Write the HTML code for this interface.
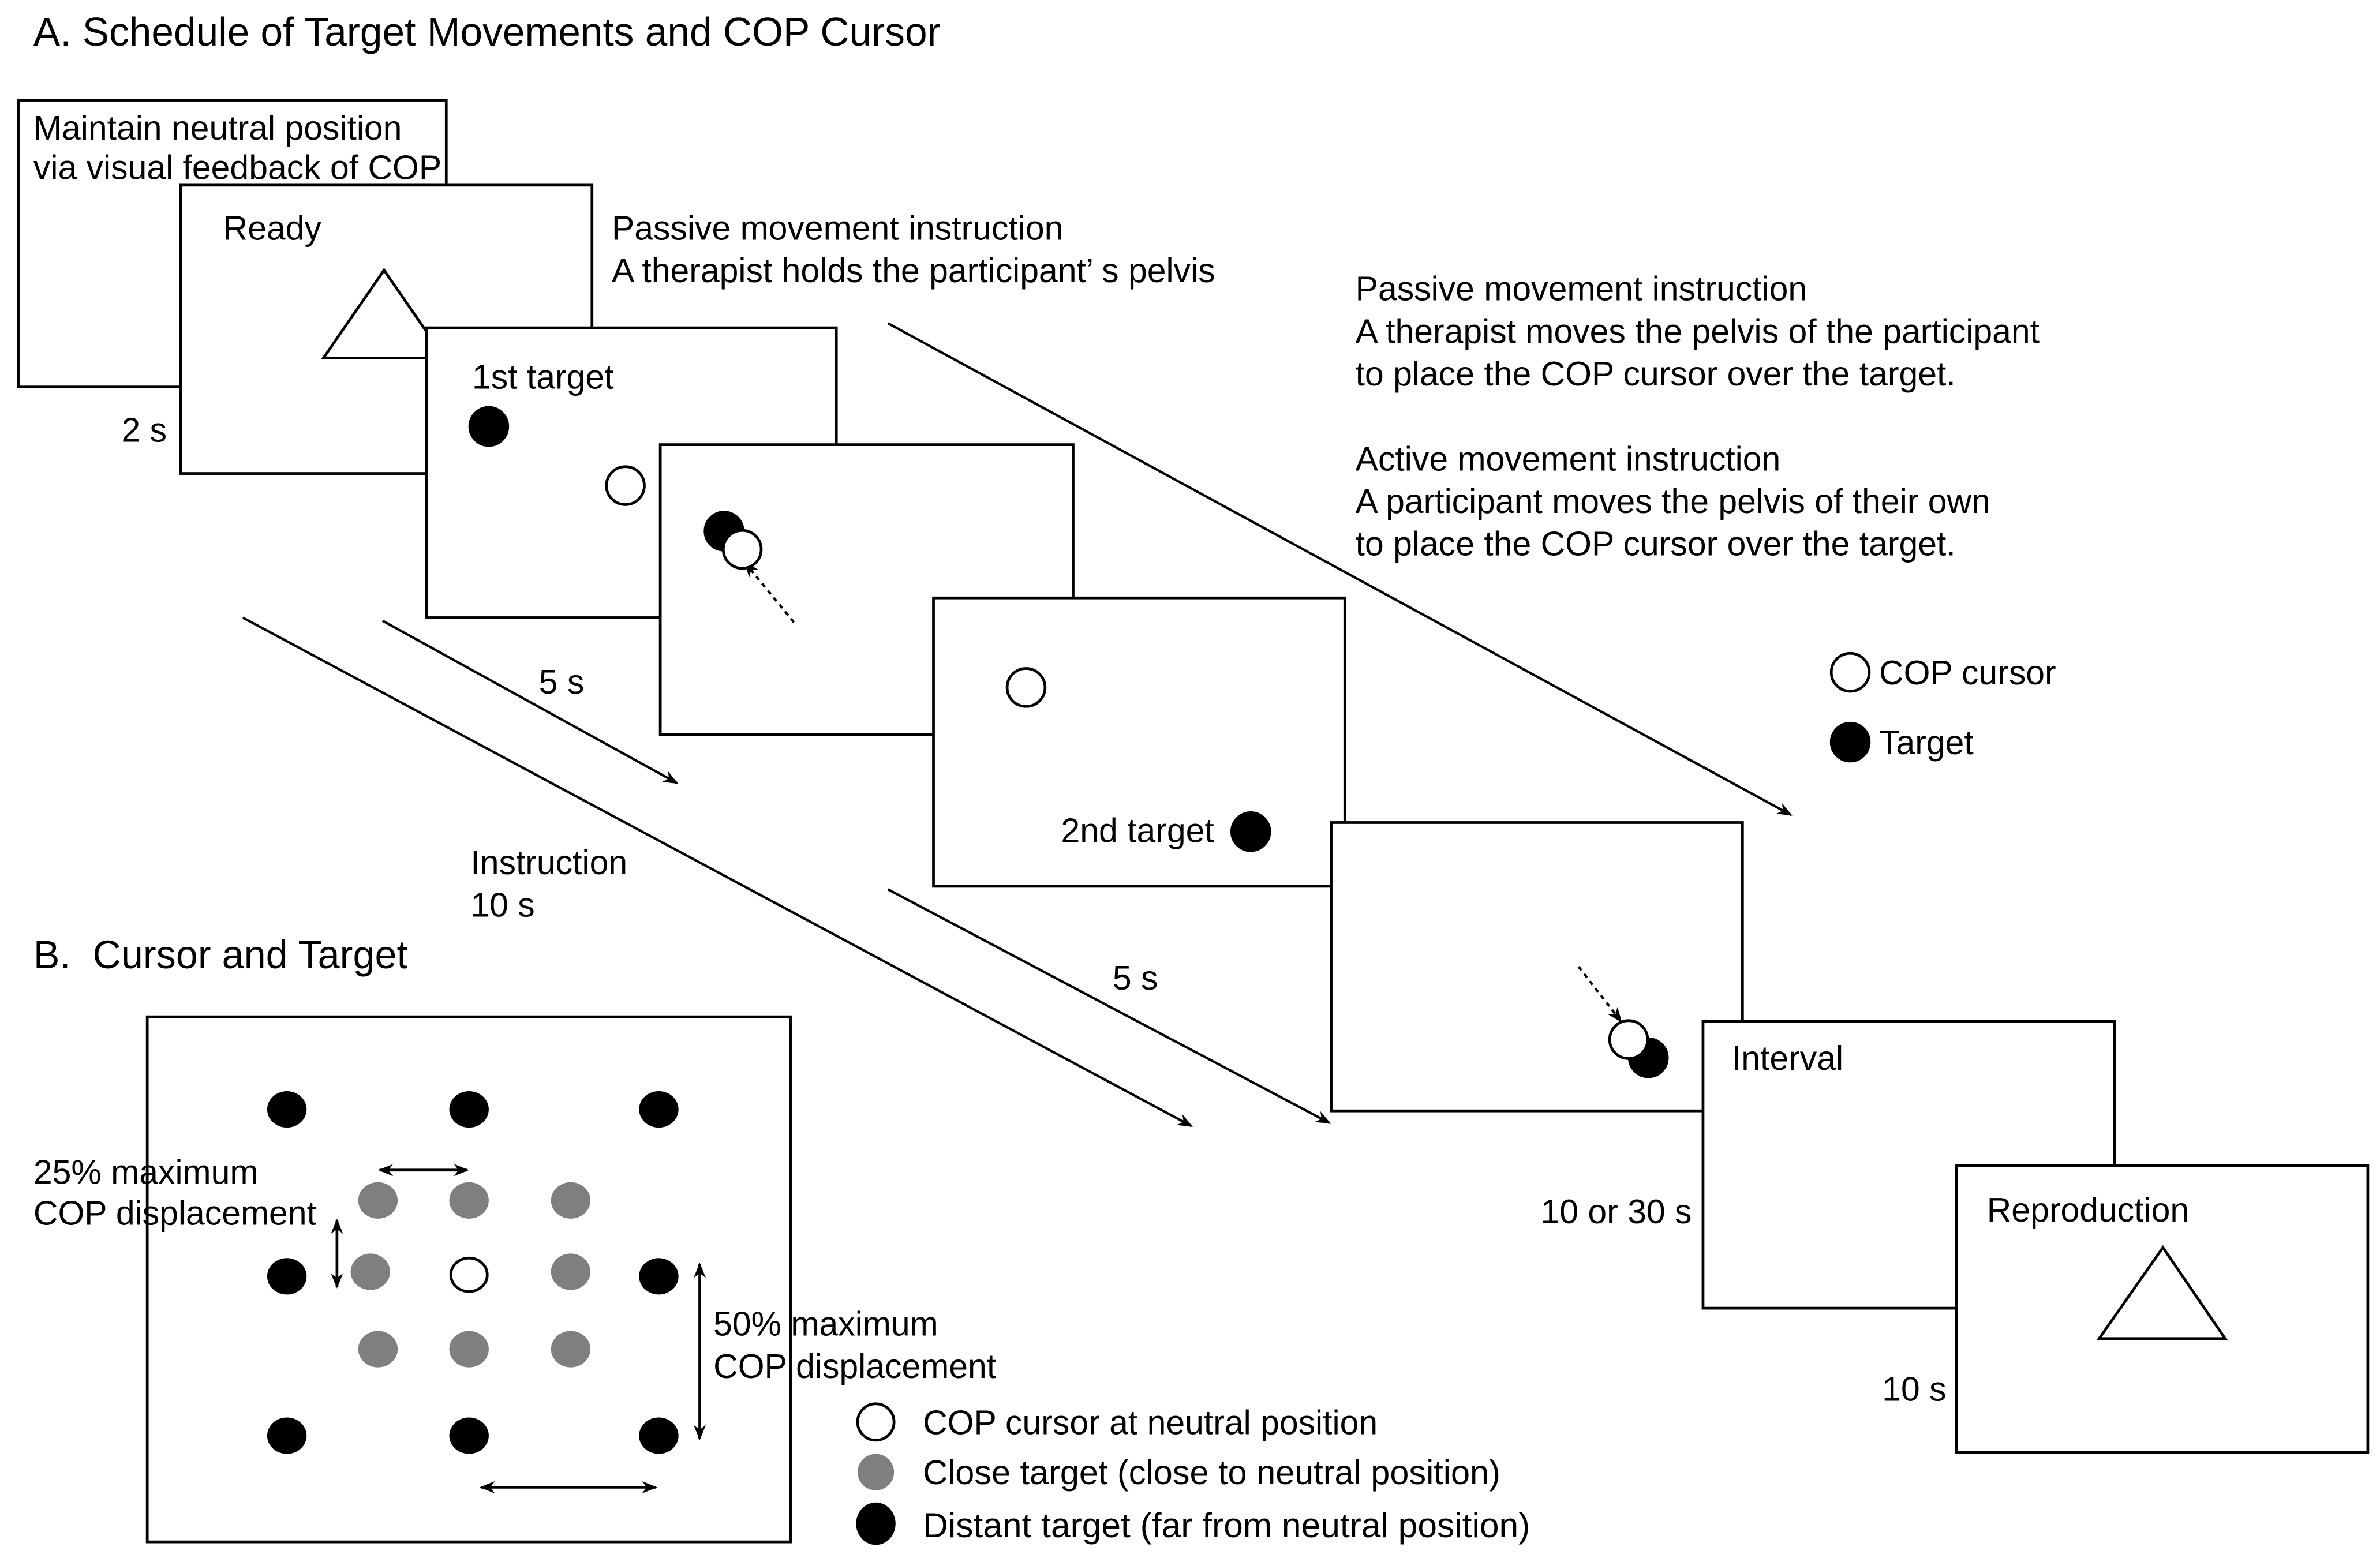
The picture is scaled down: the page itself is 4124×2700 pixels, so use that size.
<!DOCTYPE html>
<html><head><meta charset="utf-8"><style>
html,body{margin:0;padding:0;background:#fff;}
svg{display:block;}
text{font-family:"Liberation Sans",sans-serif;font-size:22.4px;fill:#000;}
</style></head><body>
<svg width="4124" height="2700" viewBox="0 0 1568 1026.6" xmlns="http://www.w3.org/2000/svg">
<defs>
<marker id="ah" markerWidth="10" markerHeight="10" refX="9" refY="5" orient="auto" markerUnits="userSpaceOnUse" viewBox="0 0 10 10">
<path d="M0,1 L10,5 L0,9 L3,5 Z" fill="#000"/></marker>
<marker id="as" markerWidth="10" markerHeight="10" refX="1" refY="5" orient="auto" markerUnits="userSpaceOnUse" viewBox="0 0 10 10">
<path d="M10,1 L0,5 L10,9 L7,5 Z" fill="#000"/></marker>
</defs>
<rect width="1568" height="1026.6" fill="#fff"/>
<text x="22" y="30" style="font-size:26.4px">A. Schedule of Target Movements and COP Cursor</text>

<g stroke="#000" stroke-width="1.8" fill="#fff">
<rect x="12" y="66" width="282" height="189"/>
<rect x="119" y="122" width="271" height="190"/>
<polygon points="213,236 253,178 293,236" fill="#fff"/>
<rect x="281" y="216" width="270" height="191"/>
<rect x="435" y="293" width="272" height="191"/>
<rect x="615" y="394" width="271" height="190"/>
<rect x="877" y="542" width="271" height="190"/>
<rect x="1122" y="673" width="271" height="189"/>
<rect x="1289" y="768" width="271" height="189"/>
<polygon points="1383,882 1425,822 1466,882"/>
<rect x="97" y="670" width="424" height="346"/>
</g>

<text x="22" y="92">Maintain neutral position</text>
<text x="22" y="118">via visual feedback of COP</text>
<text x="147" y="158">Ready</text>
<text x="80" y="291">2 s</text>
<text x="311" y="256">1st target</text>
<text x="403" y="158">Passive movement instruction</text>
<text x="403" y="186">A therapist holds the participant’ s pelvis</text>
<text x="893" y="198">Passive movement instruction</text>
<text x="893" y="226">A therapist moves the pelvis of the participant</text>
<text x="893" y="254">to place the COP cursor over the target.</text>
<text x="893" y="310">Active movement instruction</text>
<text x="893" y="338">A participant moves the pelvis of their own</text>
<text x="893" y="366">to place the COP cursor over the target.</text>
<text x="355" y="457">5 s</text>
<text x="310" y="576">Instruction</text>
<text x="310" y="604">10 s</text>
<text x="733" y="652">5 s</text>
<text x="699" y="555">2nd target</text>
<text x="1238" y="451">COP cursor</text>
<text x="1238" y="497">Target</text>
<text x="1141" y="705">Interval</text>
<text x="1015" y="806">10 or 30 s</text>
<text x="1309" y="805">Reproduction</text>
<text x="1240" y="923">10 s</text>
<text x="22" y="638" style="font-size:26px">B.</text>
<text x="61" y="638" style="font-size:26px">Cursor and Target</text>

<g stroke="#000" stroke-width="1.6" fill="none">
<line x1="160" y1="407" x2="785" y2="742" marker-end="url(#ah)"/>
<line x1="252" y1="409" x2="446" y2="516" marker-end="url(#ah)"/>
<line x1="585" y1="213" x2="1180" y2="537" marker-end="url(#ah)"/>
<line x1="585" y1="586" x2="876" y2="740" marker-end="url(#ah)"/>
<line x1="523" y1="410" x2="491" y2="371" stroke-dasharray="3,3" marker-end="url(#ah)"/>
<line x1="1040" y1="637" x2="1068" y2="673" stroke-dasharray="3,3" marker-end="url(#ah)"/>
</g>

<g stroke="#000" stroke-width="1.8">
<circle cx="322" cy="281" r="12.5" fill="#000"/>
<circle cx="412" cy="320" r="12.5" fill="#fff"/>
<circle cx="477" cy="350" r="12.5" fill="#000"/>
<circle cx="489" cy="362" r="12.5" fill="#fff"/>
<circle cx="676" cy="453" r="12.5" fill="#fff"/>
<circle cx="824" cy="548" r="12.5" fill="#000"/>
<circle cx="1086" cy="697" r="12.5" fill="#000"/>
<circle cx="1073" cy="685" r="12.5" fill="#fff"/>
<circle cx="1219" cy="443" r="12.5" fill="#fff"/>
<circle cx="1219" cy="489" r="12.5" fill="#000"/>
</g>

<g fill="#000">
<ellipse cx="189" cy="731" rx="13" ry="12"/><ellipse cx="309" cy="731" rx="13" ry="12"/><ellipse cx="434" cy="731" rx="13" ry="12"/>
<ellipse cx="189" cy="841" rx="13" ry="12"/><ellipse cx="434" cy="841" rx="13" ry="12"/>
<ellipse cx="189" cy="946" rx="13" ry="12"/><ellipse cx="309" cy="946" rx="13" ry="12"/><ellipse cx="434" cy="946" rx="13" ry="12"/>
</g>
<g fill="#7f7f7f">
<ellipse cx="249" cy="791" rx="13" ry="12"/><ellipse cx="309" cy="791" rx="13" ry="12"/><ellipse cx="376" cy="791" rx="13" ry="12"/>
<ellipse cx="244" cy="838" rx="13" ry="12"/><ellipse cx="376" cy="838" rx="13" ry="12"/>
<ellipse cx="249" cy="889" rx="13" ry="12"/><ellipse cx="309" cy="889" rx="13" ry="12"/><ellipse cx="376" cy="889" rx="13" ry="12"/>
</g>
<ellipse cx="309" cy="840" rx="12" ry="11" fill="#fff" stroke="#000" stroke-width="1.8"/>

<g stroke="#000" stroke-width="1.8">
<line x1="250" y1="771" x2="308" y2="771" marker-start="url(#as)" marker-end="url(#ah)"/>
<line x1="222" y1="804" x2="222" y2="848" marker-start="url(#as)" marker-end="url(#ah)"/>
<line x1="461" y1="833" x2="461" y2="948" marker-start="url(#as)" marker-end="url(#ah)"/>
<line x1="317" y1="980" x2="432" y2="980" marker-start="url(#as)" marker-end="url(#ah)"/>
</g>

<text x="22" y="780">25% maximum</text>
<text x="22" y="807">COP displacement</text>
<text x="470" y="880">50% maximum</text>
<text x="470" y="908">COP displacement</text>

<ellipse cx="577" cy="937" rx="12" ry="12" fill="#fff" stroke="#000" stroke-width="1.8"/>
<ellipse cx="577" cy="970" rx="12" ry="12" fill="#7f7f7f"/>
<ellipse cx="577" cy="1004" rx="13" ry="14" fill="#000"/>
<text x="608" y="945">COP cursor at neutral position</text>
<text x="608" y="978" style="font-size:22.6px">Close target (close to neutral position)</text>
<text x="608" y="1013" style="font-size:23px">Distant target (far from neutral position)</text>
</svg>
</body></html>
